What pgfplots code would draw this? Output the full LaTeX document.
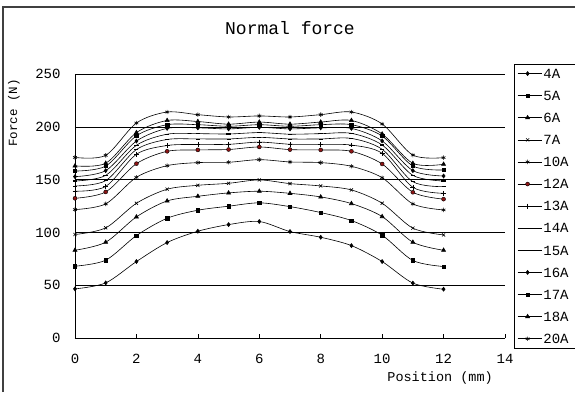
\documentclass[border=0pt]{standalone}
\usepackage{fontspec}
\setmainfont{Liberation Mono}
\usepackage{pgfplots}
\usepackage{pgfplotstable}
\pgfplotsset{compat=1.18}
\definecolor{darkred}{RGB}{140,20,20}
\pgfplotstableread{
x a4 a5 a6 a7 a10 a12 a13 a14 a15 a16 a17 a18 a20
0 46.5 68 83.1 98 121.6 132.3 139 144 148.7 152.8 158.1 163 171
1 52.2 73.7 90.7 104.3 127 138.3 143.5 149 154 158.5 162.8 165.5 173
2 72.4 97 114.7 127.6 152.2 165.1 174 178.5 182.5 186.5 191.5 194.5 203.6
3 90.4 113.4 129.8 140.9 163.2 176.8 182.3 188 193 198.5 202 206 214
4 101.1 121 134.2 144.6 166.1 178.1 183.3 188.5 193.5 199 202 205 211.5
5 107.4 124.8 137.4 146.5 166.4 178.5 183.4 188.5 193.2 198 200.5 202.5 209.3
6 110.3 128 139 149.7 168.9 180.9 185.5 190 194.5 199.5 202 204.5 210.3
7 100.8 124.4 137 146.2 166.7 178.4 183.5 188.5 193 198 200.5 202.5 209.3
8 95.4 118.8 133.6 144 166.1 178.1 183.3 188.5 193.5 199 202 204.5 211.5
9 87.5 111.2 127.3 140.2 162.6 176.8 182.7 189 193.8 198.5 202 206 214
10 72.4 97.3 115 127.6 151.8 164.8 174.9 178.7 182.8 186.6 191.3 193.2 202.7
11 52 73.4 90.7 104 127 138 142.7 148 154 158.5 162.9 165.4 173.2
12 46.2 67.7 83.1 97.6 121.3 131.5 137 143.3 148.7 153.4 159.1 164.5 170.8
}\data
\begin{document}
\begin{tikzpicture}
\useasboundingbox (0,0) rectangle (575pt,392pt);
\fill[white] (0,0) rectangle (575pt,392pt);
\draw[line width=1.5pt, black!75] (3pt,0) -- (3pt,385pt) -- (575pt,385pt);
\begin{axis}[
  at={(75pt,54pt)}, anchor=south west,
  scale only axis, width=430pt, height=264pt,
  xmin=0, xmax=14, ymin=0, ymax=250,
  xtick={0,2,...,14}, ytick={0,50,...,250},
  axis x line=bottom, axis y line=left,
  axis line style={-, line width=0.6pt},
  x axis line style={-},
  xtick style={draw=black, line width=0.6pt},
  ytick style={draw=none},
  tick align=inside, major tick length=4pt,
  ymajorgrids, grid style={black, line width=0.6pt},
  /pgf/number format/assume math mode=true,
  tick label style={font=\fontsize{14}{14}\selectfont},
  yticklabel style={xshift=-11pt},
  xticklabel style={yshift=-13pt},
  title={Normal force},
  title style={at={(axis description cs:0.5,1.1515)}, anchor=center, font=\fontsize{18}{18}\selectfont},
  xlabel={Position (mm)},
  xlabel style={at={(axis description cs:0.849,-0.1515)}, anchor=center, font=\fontsize{13.5}{13.5}\selectfont},
  ylabel={Force (N)},
  ylabel style={at={(axis description cs:-0.1419,0.852)}, anchor=center, rotate=0, font=\fontsize{12.5}{12.5}\selectfont},
  every axis plot/.append style={black, line width=0.6pt, smooth, tension=0.5, mark size=2pt, mark options={solid, fill=black}},
  legend style={at={(axis description cs:1.0209,1.0379)}, anchor=north west, draw=black, line width=0.6pt, fill=white, font=\fontsize{14}{14}\selectfont, row sep=9.6pt, inner sep=3pt, nodes={inner sep=1.5pt, text height=9.5pt, text depth=0pt}},
  legend cell align=left,
  legend image code/.code={\path (0pt,0pt) -- (24pt,0pt); \draw[mark repeat=2,mark phase=2] plot coordinates {(1.5pt,0pt) (10pt,0pt) (18.5pt,0pt)};},
]
\addplot[mark=diamond*] table[x=x,y=a4] {\data};
\addplot[mark=square*, mark size=1.7pt] table[x=x,y=a5] {\data};
\addplot[mark=triangle*, mark size=2.3pt] table[x=x,y=a6] {\data};
\addplot[mark=x, mark size=2.2pt] table[x=x,y=a7] {\data};
\addplot[mark=asterisk, mark size=2.2pt] table[x=x,y=a10] {\data};
\addplot[mark=*, mark size=2pt, mark options={fill=darkred, draw=black, line width=0.4pt}] table[x=x,y=a12] {\data};
\addplot[mark=+, mark size=2.4pt] table[x=x,y=a13] {\data};
\addplot[mark=-, mark size=2pt] table[x=x,y=a14] {\data};
\addplot[mark=-, mark size=2.3pt, mark options={line width=1.3pt}] table[x=x,y=a15] {\data};
\addplot[mark=diamond*] table[x=x,y=a16] {\data};
\addplot[mark=square*, mark size=1.7pt] table[x=x,y=a17] {\data};
\addplot[mark=triangle*, mark size=2.3pt] table[x=x,y=a18] {\data};
\addplot[mark=asterisk, mark size=2.2pt] table[x=x,y=a20] {\data};
\legend{4A,5A,6A,7A,10A,12A,13A,14A,15A,16A,17A,18A,20A\hspace*{6pt}}
\end{axis}
\end{tikzpicture}
\end{document}
